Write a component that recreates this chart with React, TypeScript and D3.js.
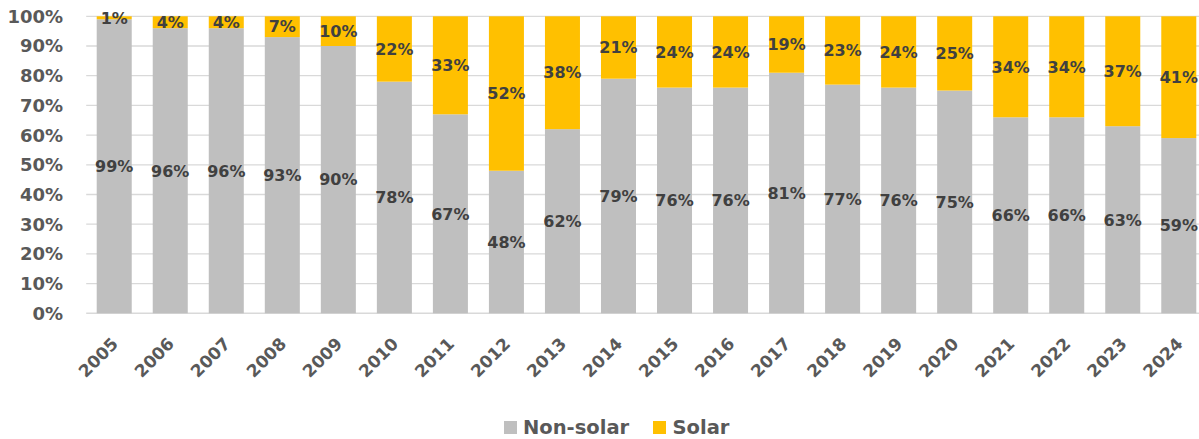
import React from "react";
import * as d3 from "d3";

const years = ["2005","2006","2007","2008","2009","2010","2011","2012","2013","2014","2015","2016","2017","2018","2019","2020","2021","2022","2023","2024"];
const nonSolar = [99,96,96,93,90,78,67,48,62,79,76,76,81,77,76,75,66,66,63,59];
const solar = [1,4,4,7,10,22,33,52,38,21,24,24,19,23,24,25,34,34,37,41];
const yTicks = [0,10,20,30,40,50,60,70,80,90,100];
const seriesNames = ["Non-solar","Solar"];
const seriesColors = ["#bfbfbf","#ffc000"];

const W = 1199;
const H = 439;
const FONT = "'DejaVu Sans', sans-serif";

export default function App() {
  const left = 86.2;
  const right = 1206.8;
  const top = 16.3;
  const bottom = 313.3;

  const x = d3.scaleBand<string>().domain(years).range([left, right]).paddingInner(0.375).paddingOuter(0.1875);
  const y = d3.scaleLinear().domain([0, 100]).range([bottom, top]);

  const rows = years.map((yr, i) => ({ year: yr, nonSolar: nonSolar[i], solar: solar[i] }));
  const stacked = d3.stack<any>().keys(["nonSolar", "solar"])(rows);

  return (
    <svg width={W} height={H} style={{ position: "absolute", left: 0, top: 0, background: "#fff" }} fontFamily={FONT}>
      {/* gridlines */}
      {yTicks.map((t) => (
        <line key={t} x1={left} x2={W} y1={y(t)} y2={y(t)} stroke="#d9d9d9" strokeWidth={t === 0 ? 1.6 : 1.3} />
      ))}
      {/* y axis labels */}
      {yTicks.map((t) => (
        <text key={"yl" + t} x={63} y={y(t)} dy="0.36em" textAnchor="end" fontSize={18} fontWeight="bold" fill="#595959">
          {t + "%"}
        </text>
      ))}
      {/* stacked bars */}
      {stacked.map((layer, li) => (
        <g key={layer.key}>
          {layer.map((d, i) => (
            <rect key={i} x={x(years[i])} width={x.bandwidth()} y={y(d[1])} height={y(d[0]) - y(d[1])} fill={seriesColors[li]} />
          ))}
        </g>
      ))}
      {/* value labels */}
      {stacked.map((layer, li) => (
        <g key={"lab" + layer.key}>
          {layer.map((d, i) => {
            const v = li === 0 ? nonSolar[i] : solar[i];
            return (
              <text key={i} x={(x(years[i]) as number) + x.bandwidth() / 2} y={y((d[0] + d[1]) / 2)} dy="0.36em" textAnchor="middle" fontSize={16} fontWeight="bold" fill="#404040">
                {v + "%"}
              </text>
            );
          })}
        </g>
      ))}
      {/* x axis labels */}
      {years.map((yr) => {
        const cx = (x(yr) as number) + x.bandwidth() / 2;
        return (
          <text key={yr} transform={`translate(${cx + 5},${345}) rotate(-45)`} textAnchor="end" fontSize={17} fontWeight="bold" fill="#595959">
            {yr}
          </text>
        );
      })}
      {/* legend */}
      <g>
        <rect x={504} y={421} width={13} height={13} fill={seriesColors[0]} />
        <text x={523} y={434} fontSize={19.5} fontWeight="bold" fill="#595959">{seriesNames[0]}</text>
        <rect x={653} y={421} width={13} height={13} fill={seriesColors[1]} />
        <text x={672.5} y={434} fontSize={19.5} fontWeight="bold" fill="#595959">{seriesNames[1]}</text>
      </g>
    </svg>
  );
}
